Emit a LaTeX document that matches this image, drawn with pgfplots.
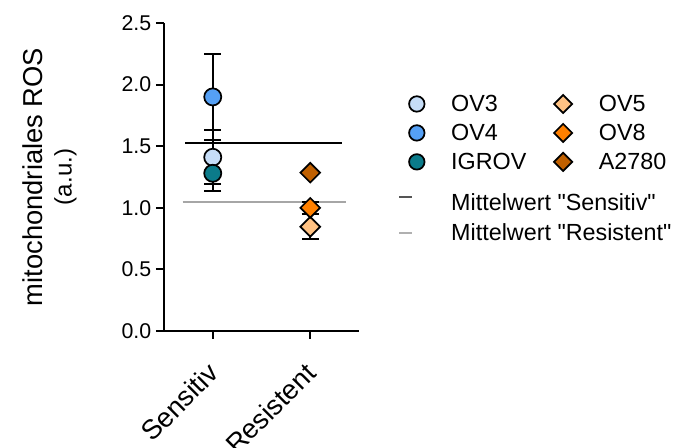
\documentclass[border=0pt]{standalone}
\usepackage{fontspec}
\setmainfont{Liberation Sans}
\usepackage{pgfplots}
\pgfplotsset{compat=1.18}
\definecolor{cOVthree}{HTML}{C6DDF7}
\definecolor{cOVfour}{HTML}{55A0F5}
\definecolor{cIGROV}{HTML}{0B7B8A}
\definecolor{cOVfive}{HTML}{FFC283}
\definecolor{cOVeight}{HTML}{FF8000}
\definecolor{cAtwo}{HTML}{C06000}
\definecolor{cMeanR}{HTML}{A6A6A6}
\definecolor{cMeanSleg}{HTML}{555555}
\definecolor{cMeanRleg}{HTML}{B0B0B0}
\pgfplotsset{
  errstyle/.style={
    error bars/y dir=both, error bars/y explicit,
    error bars/error bar style={line width=1.5pt, black},
    error bars/error mark options={rotate=90, mark size=6.2pt, line width=1.5pt, black}},
  circ/.style={only marks, mark=*, mark size=6.4pt, mark options={draw=black, fill=#1, line width=1.3pt}},
  diam/.style={only marks, mark=square*, mark size=5.2pt, mark options={rotate=45, draw=black, fill=#1, line width=1.3pt}},
}
\begin{document}
\begin{tikzpicture}
\useasboundingbox (-123pt,-87.75pt) rectangle (384.75pt,248.25pt);
\begin{axis}[
  scale only axis, width=146.25pt, height=231pt,
  xmin=-0.5, xmax=1.5, ymin=0, ymax=2.5,
  axis x line*=bottom, axis y line*=left,
  axis line style={line width=1.5pt, -},
  xtick={0,1}, xticklabels={Sensitiv,Resistent},
  ytick={0,0.5,1,1.5,2,2.5},
  tick align=outside, major tick length=6pt,
  tick style={line width=1.5pt, black},
  /pgf/number format/assume math mode=true,
  yticklabel style={font=\fontsize{16}{19}\selectfont, /pgf/number format/.cd, fixed, fixed zerofill, precision=1},
  xticklabel style={font=\fontsize{20.5}{23}\selectfont, xshift=-5pt, yshift=-15pt, rotate=45, anchor=north east, inner sep=1pt},
  ylabel={mitochondriales ROS\\{\fontsize{18}{22}\selectfont(a.u.)}},
  ylabel style={align=center, font=\fontsize{20.5}{22}\selectfont, yshift=27pt},
  clip=false,
  legend columns=2,
  legend cell align=left,
  legend style={draw=none, fill=none, at={(1.18,0.785)}, anchor=north west,
    font=\fontsize{17.5}{21}\selectfont, row sep=4pt,
    /tikz/every odd column/.append style={column sep=18pt},
    /tikz/every even column/.append style={column sep=17pt}},
]
% means
\addplot[black, line width=1.3pt, forget plot] coordinates {(-0.28,1.524) (1.33,1.524)};
\addplot[cMeanR, line width=1.3pt, forget plot] coordinates {(-0.31,1.047) (1.37,1.047)};
% Sensitiv
\addplot[forget plot, circ=cOVthree, errstyle] coordinates {(0,1.41) +- (0,0.22)};
\addplot[forget plot, circ=cOVfour, errstyle] coordinates {(0,1.90) +- (0,0.35)};
\addplot[forget plot, circ=cIGROV, errstyle] coordinates {(0,1.28) +- (0,0.14)};
% Resistent
\addplot[forget plot, diam=cOVfive, errstyle] coordinates {(1,0.846) +- (0,0.10)};
\addplot[forget plot, diam=cOVeight, errstyle] coordinates {(1,1.00) +- (0,0.05)};
\addplot[forget plot, diam=cAtwo, errstyle] coordinates {(1,1.285) +- (0,0.0)};
% legend
\addlegendimage{circ=cOVthree, mark size=5.8pt}
\addlegendentry{OV3}
\addlegendimage{diam=cOVfive, mark size=4.8pt}
\addlegendentry{OV5}
\addlegendimage{circ=cOVfour, mark size=5.8pt}
\addlegendentry{OV4}
\addlegendimage{diam=cOVeight, mark size=4.8pt}
\addlegendentry{OV8}
\addlegendimage{circ=cIGROV, mark size=5.8pt}
\addlegendentry{IGROV}
\addlegendimage{diam=cAtwo, mark size=4.8pt}
\addlegendentry{A2780}
\addlegendimage{legend image code/.code={\draw[cMeanSleg, line width=1.5pt] (-0.16cm,0cm) -- (0.16cm,0cm);}}
\addlegendentry{\makebox[0pt][l]{\rule{0pt}{1.25em}Mittelwert \textquotedbl Sensitiv\textquotedbl}}
\addlegendimage{empty legend}
\addlegendentry{}
\addlegendimage{legend image code/.code={\draw[cMeanRleg, line width=1.5pt] (-0.16cm,0cm) -- (0.16cm,0cm);}}
\addlegendentry{\makebox[0pt][l]{Mittelwert \textquotedbl Resistent\textquotedbl}}
\addlegendimage{empty legend}
\addlegendentry{}
\end{axis}
\end{tikzpicture}
\end{document}
